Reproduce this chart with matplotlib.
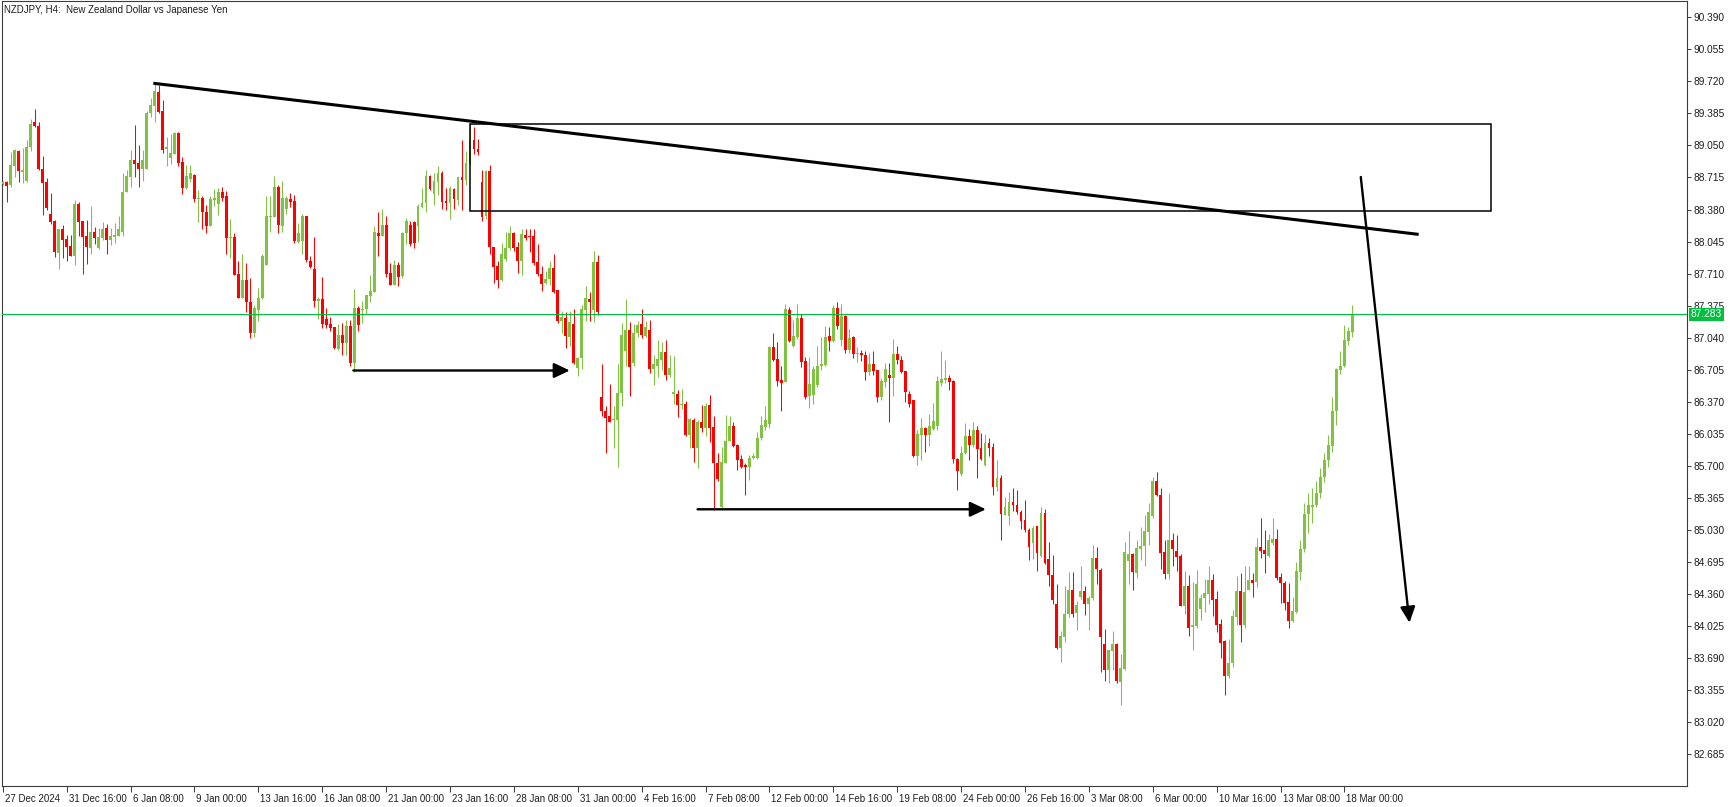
import matplotlib
matplotlib.use("Agg")
import matplotlib.pyplot as plt
import matplotlib.transforms as mtransforms
from matplotlib.patches import Rectangle

# NZDJPY H4 candles, 27 Dec 2024 .. 18 Mar 2025 (index = bar number)
opens = [
    88.65, 88.67, 88.64, 88.84, 88.99, 88.77, 88.68, 89.03, 89.29, 89.25,
    88.80, 88.67, 88.33, 88.26, 87.93, 88.18, 88.07, 88.00, 87.89, 88.44,
    88.26, 88.10, 87.98, 88.14, 87.98, 88.08, 88.19, 88.06, 88.09, 88.10,
    88.14, 88.56, 88.72, 88.90, 88.87, 88.80, 88.80, 89.39, 89.46, 89.61,
    89.41, 89.01, 88.92, 88.96, 89.18, 88.88, 88.60, 88.70, 88.74, 88.49,
    88.50, 88.35, 88.21, 88.48, 88.44, 88.56, 88.52, 88.08, 88.09, 87.71,
    87.46, 87.64, 87.41, 87.09, 87.33, 87.45, 87.80, 88.30, 88.30, 88.62,
    88.21, 88.39, 88.49, 88.47, 88.04, 88.05, 88.31, 87.84, 87.76, 87.42,
    87.44, 87.24, 87.18, 87.15, 86.92, 87.07, 86.98, 87.16, 86.78, 87.35,
    87.33, 87.34, 87.48, 87.52, 88.13, 88.10, 88.22, 87.72, 87.59, 87.80,
    87.68, 88.13, 88.22, 88.25, 88.21, 88.41, 88.45, 88.73, 88.54, 88.67,
    88.76, 88.47, 88.45, 88.59, 88.48, 88.72, 88.69, 88.86, 89.11, 89.01,
    88.67, 88.31, 88.78, 87.99, 87.79, 87.64, 87.86, 87.98, 88.13, 87.99,
    87.84, 88.11, 88.10, 88.10, 87.83, 87.71, 87.61, 87.65, 87.77, 87.54,
    87.21, 87.25, 87.05, 87.18, 86.72, 86.83, 87.33, 87.44, 87.33, 87.83,
    86.42, 86.27, 86.22, 86.18, 86.18, 86.46, 86.90, 87.12, 86.78, 87.09,
    87.18, 87.06, 87.12, 86.71, 86.74, 86.81, 86.89, 86.65, 86.45, 86.45,
    86.34, 86.35, 86.02, 86.18, 85.89, 86.16, 86.10, 86.34, 86.11, 85.73,
    85.27, 85.73, 85.96, 86.12, 85.92, 85.77, 85.71, 85.69, 85.78, 85.78,
    85.99, 86.11, 86.14, 86.94, 86.82, 86.60, 86.58, 87.33, 86.95, 87.05,
    87.25, 86.80, 86.43, 86.44, 86.55, 86.74, 86.75, 87.06, 87.01, 87.35,
    87.02, 87.27, 86.91, 87.05, 86.87, 86.88, 86.86, 86.68, 86.77, 86.70,
    86.42, 86.58, 86.65, 86.62, 86.87, 86.81, 86.69, 86.45, 86.39, 85.80,
    86.02, 86.10, 86.02, 86.09, 86.12, 86.57, 86.60, 86.62, 86.59, 85.77,
    85.61, 85.83, 86.01, 85.92, 86.08, 85.89, 85.71, 85.94, 85.90, 85.48,
    85.57, 85.19, 85.18, 85.32, 85.29, 85.22, 85.13, 85.03, 84.89, 85.07,
    84.76, 85.21, 84.73, 84.56, 84.26, 83.80, 83.91, 84.15, 84.40, 84.16,
    84.33, 84.39, 84.26, 84.32, 84.74, 84.61, 83.84, 83.57, 83.76, 83.84,
    83.44, 83.58, 84.71, 84.78, 84.58, 84.83, 84.86, 85.01, 85.18, 85.54,
    85.40, 84.80, 84.57, 84.93, 84.81, 84.76, 84.24, 84.44, 84.02, 84.03,
    84.20, 84.32, 84.36, 84.51, 84.31, 84.05, 83.87, 83.50, 83.64, 84.12,
    84.39, 84.04, 84.40, 84.51, 84.49, 84.85, 84.82, 84.76, 84.89, 84.94,
    84.54, 84.48, 84.28, 84.08, 84.17, 84.59, 84.83, 85.20, 85.27, 85.29,
    85.42, 85.58, 85.76, 85.91, 86.27, 86.70, 86.74, 87.01, 87.10,
]
highs = [
    88.68, 88.68, 88.98, 89.01, 89.00, 89.02, 89.11, 89.33, 89.43, 89.29,
    88.94, 88.71, 88.55, 88.27, 88.18, 88.22, 88.11, 88.11, 88.48, 88.46,
    88.26, 88.27, 88.42, 88.20, 88.19, 88.25, 88.23, 88.19, 88.24, 88.31,
    88.76, 88.79, 89.00, 89.26, 89.05, 89.00, 89.41, 89.55, 89.70, 89.68,
    89.53, 89.14, 89.17, 89.19, 89.19, 88.93, 88.85, 88.85, 88.75, 88.58,
    88.52, 88.43, 88.52, 88.59, 88.60, 88.62, 88.57, 88.28, 88.13, 87.84,
    87.91, 87.82, 87.66, 87.38, 87.56, 87.92, 88.52, 88.52, 88.73, 88.64,
    88.68, 88.52, 88.55, 88.53, 88.24, 88.33, 88.31, 87.89, 88.09, 87.47,
    87.67, 87.35, 87.26, 87.15, 87.18, 87.19, 87.22, 87.22, 87.55, 87.37,
    87.42, 87.49, 87.70, 88.21, 88.35, 88.39, 88.31, 87.82, 87.85, 87.83,
    88.15, 88.29, 88.26, 88.26, 88.44, 88.60, 88.79, 88.74, 88.76, 88.83,
    88.78, 88.60, 88.63, 88.60, 88.72, 89.11, 88.99, 89.28, 89.24, 89.12,
    88.79, 88.79, 88.85, 87.99, 87.84, 88.03, 88.14, 88.21, 88.14, 88.04,
    88.18, 88.18, 88.18, 88.18, 88.02, 87.79, 87.74, 87.84, 87.92, 87.54,
    87.32, 87.31, 87.32, 87.34, 86.84, 87.38, 87.58, 87.52, 87.95, 87.90,
    86.77, 86.33, 86.56, 86.33, 86.77, 87.19, 87.44, 87.20, 87.18, 87.21,
    87.34, 87.21, 87.22, 86.86, 87.02, 86.99, 87.02, 86.86, 86.85, 86.49,
    86.50, 86.38, 86.20, 86.20, 86.18, 86.34, 86.36, 86.44, 86.22, 85.83,
    85.90, 86.23, 86.22, 86.16, 85.93, 85.81, 85.73, 85.81, 85.83, 86.05,
    86.22, 86.33, 86.95, 87.09, 86.99, 86.74, 87.39, 87.36, 87.22, 87.39,
    87.29, 86.84, 86.84, 86.74, 86.95, 87.05, 87.16, 87.15, 87.38, 87.41,
    87.39, 87.28, 87.13, 87.06, 86.94, 86.91, 86.90, 86.88, 86.90, 86.70,
    86.62, 86.78, 86.78, 87.03, 86.95, 86.85, 86.69, 86.48, 86.39, 86.08,
    86.20, 86.11, 86.24, 86.36, 86.64, 86.90, 86.81, 86.65, 86.60, 85.78,
    85.91, 86.15, 86.09, 86.16, 86.12, 86.04, 86.03, 85.99, 85.94, 85.76,
    85.60, 85.37, 85.43, 85.47, 85.45, 85.24, 85.34, 85.05, 85.07, 85.07,
    85.27, 85.25, 84.90, 84.77, 84.47, 83.97, 84.44, 84.59, 84.59, 84.29,
    84.65, 84.44, 84.34, 84.87, 84.85, 84.63, 83.99, 83.78, 83.97, 83.85,
    83.73, 84.90, 85.02, 84.79, 84.92, 85.06, 85.19, 85.31, 85.58, 85.64,
    85.47, 84.93, 85.42, 85.00, 84.98, 84.78, 84.60, 84.56, 84.49, 84.61,
    84.36, 84.52, 84.65, 84.57, 84.39, 84.10, 83.88, 83.89, 84.19, 84.55,
    84.58, 84.65, 84.65, 84.58, 84.95, 85.16, 85.03, 84.99, 85.16, 85.04,
    84.58, 84.50, 84.48, 84.33, 84.70, 84.93, 85.31, 85.42, 85.47, 85.54,
    85.68, 85.83, 86.02, 86.42, 86.72, 86.90, 87.17, 87.15, 87.38,
]
lows = [
    88.64, 88.46, 88.62, 88.72, 88.67, 88.66, 88.67, 88.99, 89.24, 88.79,
    88.32, 88.37, 88.23, 87.88, 87.76, 87.87, 87.84, 87.89, 87.80, 88.10,
    87.71, 87.81, 87.91, 88.02, 87.97, 88.06, 87.91, 88.01, 88.03, 88.10,
    88.10, 88.56, 88.62, 88.72, 88.62, 88.68, 88.80, 89.35, 89.29, 89.39,
    88.97, 88.84, 88.86, 88.96, 88.83, 88.54, 88.59, 88.67, 88.46, 88.25,
    88.18, 88.13, 88.21, 88.42, 88.32, 88.47, 87.92, 87.87, 87.70, 87.45,
    87.45, 87.31, 87.04, 87.05, 87.21, 87.44, 87.80, 88.14, 88.30, 88.13,
    88.15, 88.33, 88.41, 88.03, 88.03, 87.91, 87.83, 87.77, 87.36, 87.24,
    87.14, 87.14, 87.11, 86.92, 86.91, 86.86, 86.86, 86.74, 86.68, 87.11,
    87.19, 87.29, 87.41, 87.52, 87.89, 88.10, 87.67, 87.59, 87.59, 87.58,
    87.66, 88.02, 88.00, 87.98, 88.04, 88.40, 88.35, 88.58, 88.43, 88.53,
    88.39, 88.38, 88.28, 88.39, 88.43, 88.38, 88.64, 88.85, 88.96, 88.95,
    88.26, 88.28, 87.92, 87.61, 87.56, 87.63, 87.84, 87.96, 87.95, 87.72,
    87.70, 88.06, 87.94, 87.80, 87.69, 87.53, 87.60, 87.59, 87.51, 87.19,
    87.09, 86.93, 86.95, 86.77, 86.64, 86.71, 87.21, 87.21, 87.20, 87.28,
    86.22, 85.83, 86.16, 85.89, 85.69, 86.33, 86.74, 86.43, 86.74, 87.05,
    87.04, 87.05, 86.67, 86.55, 86.63, 86.70, 86.60, 86.63, 86.35, 86.21,
    86.29, 86.01, 85.89, 85.74, 85.68, 86.05, 86.01, 85.95, 85.24, 85.54,
    85.24, 85.73, 85.96, 85.90, 85.66, 85.68, 85.40, 85.55, 85.77, 85.77,
    85.97, 86.08, 86.10, 86.80, 86.54, 86.27, 86.58, 86.99, 86.94, 87.03,
    86.73, 86.40, 86.30, 86.35, 86.52, 86.70, 86.74, 86.90, 86.99, 87.13,
    86.95, 86.88, 86.88, 86.83, 86.79, 86.80, 86.60, 86.65, 86.65, 86.37,
    86.39, 86.52, 86.16, 86.43, 86.77, 86.67, 86.37, 86.32, 85.79, 85.71,
    85.76, 85.85, 85.91, 86.08, 86.07, 86.54, 86.57, 86.49, 85.73, 85.45,
    85.59, 85.82, 85.76, 85.90, 85.57, 85.76, 85.70, 85.80, 85.40, 85.44,
    84.92, 85.19, 85.08, 85.23, 85.20, 85.04, 85.01, 84.72, 84.73, 84.60,
    84.75, 84.67, 84.44, 84.26, 83.79, 83.65, 83.86, 84.12, 84.12, 83.98,
    84.31, 84.14, 83.98, 84.30, 84.46, 83.55, 83.45, 83.43, 83.57, 83.43,
    83.20, 83.57, 84.46, 84.40, 84.53, 84.72, 84.65, 84.87, 85.15, 85.39,
    84.62, 84.52, 84.52, 84.65, 84.60, 84.24, 84.15, 83.92, 83.77, 84.01,
    84.09, 84.17, 84.26, 84.13, 83.96, 83.69, 83.30, 83.48, 83.60, 84.04,
    83.86, 84.01, 84.40, 84.33, 84.43, 84.74, 84.58, 84.75, 84.87, 84.51,
    84.27, 84.19, 84.01, 84.07, 84.16, 84.51, 84.80, 85.00, 85.10, 85.27,
    85.36, 85.53, 85.69, 85.84, 86.13, 86.66, 86.73, 86.96, 87.05,
]
closes = [
    88.67, 88.63, 88.85, 89.00, 88.78, 88.79, 89.03, 89.27, 89.25, 88.80,
    88.66, 88.40, 88.25, 87.94, 88.18, 88.06, 87.99, 87.89, 88.44, 88.25,
    88.09, 87.99, 88.14, 88.08, 88.09, 88.18, 88.06, 88.10, 88.11, 88.18,
    88.56, 88.73, 88.90, 88.86, 88.80, 88.90, 89.39, 89.47, 89.62, 89.40,
    89.00, 89.03, 88.97, 89.18, 88.87, 88.60, 88.73, 88.76, 88.49, 88.50,
    88.35, 88.21, 88.49, 88.50, 88.56, 88.50, 88.08, 88.09, 87.70, 87.46,
    87.64, 87.41, 87.09, 87.35, 87.46, 87.89, 88.31, 88.31, 88.62, 88.22,
    88.50, 88.50, 88.46, 88.05, 88.13, 88.31, 87.85, 87.78, 87.42, 87.44,
    87.18, 87.17, 87.14, 86.93, 87.07, 86.98, 87.16, 86.78, 87.35, 87.17,
    87.34, 87.49, 87.53, 88.14, 88.10, 88.22, 87.71, 87.59, 87.80, 87.67,
    88.13, 88.26, 88.02, 88.03, 88.42, 88.45, 88.73, 88.59, 88.68, 88.76,
    88.46, 88.45, 88.60, 88.49, 88.72, 88.69, 88.87, 89.11, 89.01, 88.98,
    88.30, 88.78, 87.99, 87.78, 87.64, 87.91, 87.98, 88.13, 87.98, 87.84,
    88.12, 88.08, 88.09, 87.82, 87.71, 87.60, 87.65, 87.77, 87.52, 87.21,
    87.26, 87.06, 87.20, 86.78, 86.83, 87.34, 87.45, 87.41, 87.83, 87.31,
    86.27, 86.20, 86.16, 86.19, 86.46, 87.07, 87.12, 86.73, 87.09, 87.17,
    87.07, 87.15, 86.71, 86.76, 86.82, 86.89, 86.65, 86.72, 86.47, 86.34,
    86.35, 86.02, 86.19, 85.89, 86.16, 86.10, 86.33, 86.10, 85.73, 85.56,
    85.74, 85.96, 86.12, 85.91, 85.76, 85.69, 85.69, 85.78, 85.80, 85.99,
    86.13, 86.18, 86.94, 86.81, 86.59, 86.57, 87.34, 87.01, 87.06, 87.25,
    86.79, 86.42, 86.56, 86.71, 86.74, 86.76, 87.05, 87.01, 87.35, 87.16,
    87.27, 86.91, 87.04, 86.87, 86.88, 86.86, 86.68, 86.77, 86.69, 86.42,
    86.59, 86.71, 86.62, 86.87, 86.81, 86.68, 86.47, 86.35, 85.80, 86.03,
    86.10, 86.02, 86.12, 86.17, 86.59, 86.61, 86.62, 86.58, 85.77, 85.65,
    85.83, 86.01, 85.92, 86.08, 85.88, 85.77, 85.94, 85.89, 85.48, 85.57,
    85.20, 85.27, 85.32, 85.29, 85.22, 85.12, 85.03, 84.85, 85.05, 84.79,
    85.21, 84.68, 84.56, 84.30, 83.80, 83.92, 84.15, 84.40, 84.15, 84.25,
    84.39, 84.26, 84.32, 84.74, 84.62, 83.91, 83.57, 83.77, 83.84, 83.45,
    83.59, 84.80, 84.78, 84.59, 84.84, 84.86, 85.02, 85.22, 85.54, 85.40,
    84.79, 84.57, 84.93, 84.83, 84.75, 84.24, 84.44, 84.01, 84.03, 84.46,
    84.32, 84.37, 84.51, 84.30, 84.04, 83.85, 83.50, 83.64, 84.13, 84.39,
    84.04, 84.38, 84.51, 84.48, 84.85, 84.81, 84.78, 84.92, 84.94, 84.53,
    84.48, 84.27, 84.08, 84.18, 84.60, 84.83, 85.20, 85.29, 85.29, 85.42,
    85.58, 85.76, 85.92, 86.27, 86.71, 86.74, 87.02, 87.11, 87.28,
]

last_price = 87.283

# axis labels as shown by the terminal
price_ticks = [82.685, 83.020, 83.355, 83.690, 84.025, 84.360, 84.695, 85.030,
               85.365, 85.700, 86.035, 86.370, 86.705, 87.040, 87.375, 87.710,
               88.045, 88.380, 88.715, 89.050, 89.385, 89.720, 90.055, 90.390]
date_labels = ["27 Dec 2024", "31 Dec 16:00", "6 Jan 08:00", "9 Jan 00:00",
               "13 Jan 16:00", "16 Jan 08:00", "21 Jan 00:00", "23 Jan 16:00",
               "28 Jan 08:00", "31 Jan 00:00", "4 Feb 16:00", "7 Feb 08:00",
               "12 Feb 00:00", "14 Feb 16:00", "19 Feb 08:00", "24 Feb 00:00",
               "26 Feb 16:00", "3 Mar 08:00", "6 Mar 00:00", "10 Mar 16:00",
               "13 Mar 08:00", "18 Mar 00:00"]
date_bars = [0, 16, 32, 48, 64, 80, 96, 112, 128, 144, 160, 176, 192, 208,
             224, 240, 256, 272, 288, 304, 320, 336]

# hand drawn objects (bar index, price)
trend_x = [37.7, 354.6]
trend_y = [89.70, 88.12]
zone_x = [116.9, 372.6]
zone_y = [88.368, 89.275]
arrows = [
    ((87.8, 86.697), (142.0, 86.697)),
    ((174.0, 85.246), (246.2, 85.246)),
    ((340.1, 88.72), (352.3, 84.06)),
]

up_color = "#80c342"
down_color = "#ff0000"
bid_color = "#00c040"
frame_color = "#3c3c3c"

plt.rcParams["font.family"] = ["Liberation Sans", "DejaVu Sans"]

fig = plt.figure(figsize=(17.35, 8.07), dpi=100)
ax = fig.add_axes([2 / 1735, 21 / 807, 1685 / 1735, 785 / 807])

bars = range(len(opens))
colors = [up_color if c >= o else down_color for o, c in zip(opens, closes)]
bottoms = [min(o, c) for o, c in zip(opens, closes)]
heights = [max(abs(c - o), 0.011) for o, c in zip(opens, closes)]

ax.vlines(bars, lows, highs, colors=colors, linewidth=0.75, zorder=2)
ax.bar(bars, heights, bottom=bottoms, width=0.72, color=colors,
       linewidth=0, zorder=3)

ax.axhline(last_price, color=bid_color, linewidth=0.8, zorder=4)

# objects
ax.plot(trend_x, trend_y, color="black", linewidth=2.2,
        solid_capstyle="butt", zorder=6)
ax.add_patch(Rectangle((zone_x[0], zone_y[0]), zone_x[1] - zone_x[0],
                       zone_y[1] - zone_y[0], fill=False, edgecolor="black",
                       linewidth=1.1, zorder=6))
for start, end in arrows:
    ax.annotate("", xy=end, xytext=start,
                arrowprops=dict(arrowstyle="-|>,head_length=0.95,head_width=0.45",
                                color="black", lw=1.7, shrinkA=0, shrinkB=0,
                                mutation_scale=10),
                zorder=6)

ax.set_xlim(-0.2, 421.8)
ax.set_ylim(82.353, 90.560)

for sp in ax.spines.values():
    sp.set_color(frame_color)
    sp.set_linewidth(0.8)

ax.yaxis.tick_right()
ax.set_yticks(price_ticks)
ax.set_yticklabels([f"{p:.3f}" for p in price_ticks])
ax.tick_params(axis="y", direction="out", length=3, width=0.7, pad=1.5,
               labelsize=7.3, colors=frame_color, labelcolor="#1e1e1e")

ax.set_xticks(date_bars)
ax.set_xticklabels(date_labels)
ax.tick_params(axis="x", direction="out", length=4, width=0.7, pad=2,
               labelsize=7, colors=frame_color, labelcolor="#1e1e1e")
shift = mtransforms.ScaledTranslation(2 / 100, 0, fig.dpi_scale_trans)
for lab in ax.get_xticklabels():
    lab.set_horizontalalignment("left")
    lab.set_transform(lab.get_transform() + shift)

# price tag for the last bid
tag = mtransforms.blended_transform_factory(ax.transAxes, ax.transData)
ax.text(1.0022, last_price, f"{last_price:.3f}", transform=tag, ha="left",
        va="center", fontsize=7.3, color="white", clip_on=False, zorder=7,
        bbox=dict(boxstyle="square,pad=0.18", facecolor=bid_color,
                  edgecolor="none"))

fig.text(4 / 1735, 1 - 10 / 807,
         "NZDJPY, H4:  New Zealand Dollar vs Japanese Yen",
         ha="left", va="center", fontsize=7, color="#1e1e1e")

fig.savefig("out.png", dpi=100)
